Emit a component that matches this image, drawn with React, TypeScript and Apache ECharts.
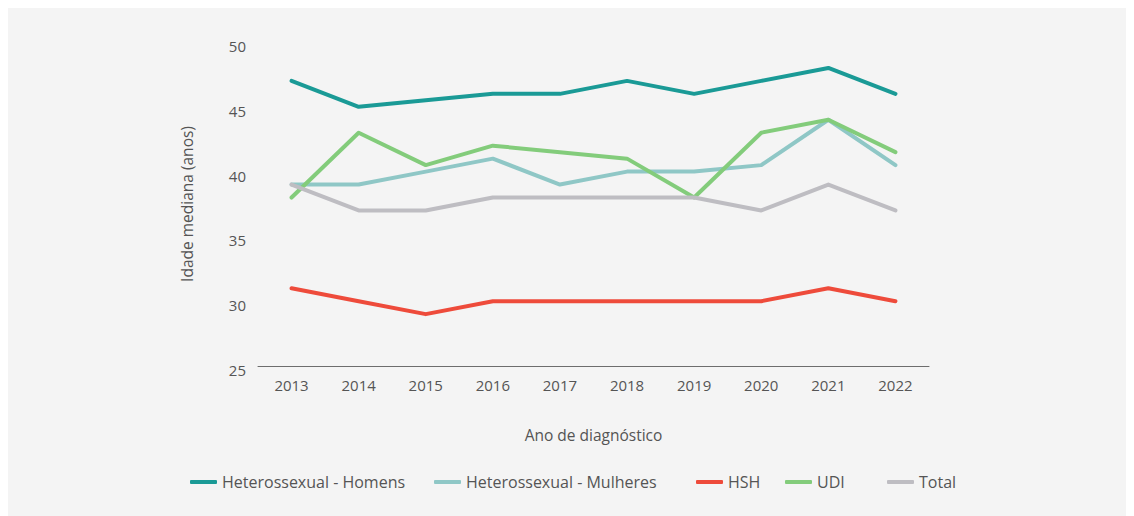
import React, { useEffect, useRef } from "react";
import * as echarts from "echarts";

const years = ["2013", "2014", "2015", "2016", "2017", "2018", "2019", "2020", "2021", "2022"];
const homens = [47, 45, 45.5, 46, 46, 47, 46, 47, 48, 46];
const mulheres = [39, 39, 40, 41, 39, 40, 40, 40.5, 44, 40.5];
const hsh = [31, 30, 29, 30, 30, 30, 30, 30, 31, 30];
const udi = [38, 43, 40.5, 42, 41.5, 41, 38, 43, 44, 41.5];
const total = [39, 37, 37, 38, 38, 38, 38, 37, 39, 37];

const seriesNames = ["Heterossexual - Homens", "Heterossexual - Mulheres", "HSH", "UDI", "Total"];
const seriesData = [homens, mulheres, hsh, udi, total];
const colors = ["#1a9a96", "#8fc7c6", "#ee4b3b", "#83cc7b", "#bebdc2"];
const legendLeft = [182, 426, 688, 777, 879];

const FONT = "'Open Sans', 'Noto Sans', sans-serif";
const TEXT = "#555555";

export default function App() {
  const ref = useRef<HTMLDivElement>(null);
  useEffect(() => {
    if (!ref.current) return;
    const chart = echarts.init(ref.current, undefined, { renderer: "svg" });
    chart.setOption({
      animation: false,
      backgroundColor: "#f4f4f4",
      textStyle: { fontFamily: FONT },
      grid: { left: 250, right: 205, top: 34, bottom: 150 },
      legend: seriesNames.map((n, i) => ({
        data: [n],
        left: legendLeft[i],
        top: 466,
        padding: 0,
        icon: "roundRect",
        itemWidth: 27,
        itemHeight: 4,
        itemGap: 9,
        textStyle: { color: TEXT, fontSize: 16, fontFamily: FONT },
      })),
      xAxis: {
        type: "category",
        data: years,
        boundaryGap: true,
        axisLine: { lineStyle: { color: "#6d6d6d", width: 1 } },
        axisTick: { show: false },
        axisLabel: { color: TEXT, fontSize: 15, margin: 11, fontFamily: FONT },
        name: "Ano de diagnóstico",
        nameLocation: "middle",
        nameGap: 61,
        nameTextStyle: { color: TEXT, fontSize: 15.5, fontFamily: FONT },
      },
      yAxis: {
        type: "value",
        min: 25,
        max: 50,
        interval: 5,
        axisLine: { show: false },
        axisTick: { show: false },
        splitLine: { show: false },
        axisLabel: {
          color: TEXT,
          fontSize: 15,
          margin: 12,
          fontFamily: FONT,
          verticalAlign: "top",
          lineHeight: 8,
        },
        name: "Idade mediana (anos)",
        nameLocation: "middle",
        nameRotate: 90,
        nameGap: 63,
        nameTextStyle: { color: TEXT, fontSize: 15.5, fontFamily: FONT },
      },
      series: seriesNames.map((n, i) => ({
        name: n,
        type: "line",
        data: seriesData[i],
        showSymbol: false,
        symbol: "none",
        color: colors[i],
        lineStyle: { width: 4, color: colors[i], cap: "round", join: "round" },
      })),
    });
    return () => chart.dispose();
  }, []);
  return <div ref={ref} style={{ width: 1126, height: 508 }} />;
}
